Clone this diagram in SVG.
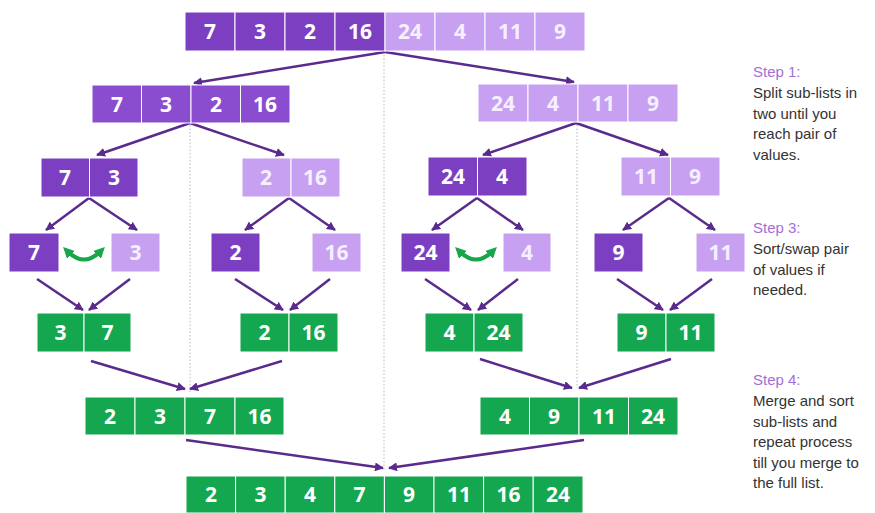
<svg xmlns="http://www.w3.org/2000/svg" width="875" height="513" viewBox="0 0 875 513">
<style>
.d{fill:#7d3fc2;stroke:#fff;stroke-width:1}
.m{fill:#8a4dd0;stroke:#fff;stroke-width:1}
.l{fill:#c7a0f2;stroke:#fff;stroke-width:1}
.g{fill:#15a650;stroke:#fff;stroke-width:1}
.t{font-family:"Open Sans","Liberation Sans",sans-serif;font-weight:700;font-size:21px;fill:#fff;text-anchor:middle}
.tl{fill:#f6efff}
.a{stroke:#5a2a8c;stroke-width:2.5;fill:none;marker-end:url(#ah)}
.dot{stroke:#b8b8b8;stroke-width:1;stroke-dasharray:1.5 2;fill:none}
.sh{font-family:"Liberation Sans","Open Sans",sans-serif;font-size:15px;fill:#a36fd6}
.sb{font-family:"Liberation Sans","Open Sans",sans-serif;font-size:15px;fill:#333}
.sw{stroke:#17a64a;stroke-width:4;fill:none;marker-start:url(#gh);marker-end:url(#gh)}
</style>
<defs>
<marker id="ah" viewBox="0 0 10 10" refX="9" refY="5" markerWidth="9" markerHeight="9" markerUnits="userSpaceOnUse" orient="auto">
<path d="M0,0 L10,5 L0,10 z" fill="#5a2a8c"/>
</marker>
<marker id="gh" viewBox="0 0 10 10" refX="5" refY="5" markerWidth="11" markerHeight="11" markerUnits="userSpaceOnUse" orient="auto-start-reverse">
<path d="M0,0 L10,5 L0,10 z" fill="#17a64a"/>
</marker>
</defs>
<rect width="875" height="513" fill="#fff"/>
<g id="guides">
<line class="dot" x1="384" y1="55" x2="384" y2="470"/>
<line class="dot" x1="190" y1="125" x2="190" y2="392"/>
<line class="dot" x1="577" y1="125" x2="577" y2="388"/>
</g>
<g id="connectors">
<line class="a" x1="385" y1="52" x2="194" y2="83"/>
<line class="a" x1="385" y1="52" x2="574" y2="82"/>
<line class="a" x1="190" y1="123" x2="97" y2="155"/>
<line class="a" x1="190" y1="123" x2="284" y2="155"/>
<line class="a" x1="576" y1="123" x2="483" y2="155"/>
<line class="a" x1="576" y1="123" x2="668" y2="155"/>
<line class="a" x1="89" y1="198" x2="46" y2="230"/>
<line class="a" x1="89" y1="198" x2="137" y2="230"/>
<line class="a" x1="289" y1="198" x2="245" y2="230"/>
<line class="a" x1="289" y1="198" x2="335" y2="230"/>
<line class="a" x1="477" y1="198" x2="432" y2="230"/>
<line class="a" x1="477" y1="198" x2="523" y2="230"/>
<line class="a" x1="669" y1="198" x2="623" y2="230"/>
<line class="a" x1="669" y1="198" x2="715" y2="230"/>
<line class="a" x1="37" y1="279" x2="83" y2="310"/>
<line class="a" x1="130" y1="279" x2="89" y2="310"/>
<line class="a" x1="235" y1="279" x2="283" y2="310"/>
<line class="a" x1="330" y1="279" x2="290" y2="310"/>
<line class="a" x1="425" y1="279" x2="471" y2="310"/>
<line class="a" x1="518" y1="279" x2="478" y2="310"/>
<line class="a" x1="617" y1="279" x2="663" y2="310"/>
<line class="a" x1="712" y1="279" x2="670" y2="310"/>
<line class="a" x1="91" y1="361" x2="185" y2="389"/>
<line class="a" x1="282" y1="361" x2="190" y2="389"/>
<line class="a" x1="480" y1="359" x2="572" y2="388"/>
<line class="a" x1="671" y1="359" x2="579" y2="388"/>
<line class="a" x1="186" y1="440" x2="383" y2="468"/>
<line class="a" x1="584" y1="440" x2="389" y2="468"/>
<path class="sw" d="M67,251 Q84,268 101,251"/>
<path class="sw" d="M459,251 Q476,268 493,251"/>
</g>
<g id="top">
<rect class="d" x="185" y="12" width="50" height="39"/><rect class="d" x="235" y="12" width="50" height="39"/><rect class="d" x="285" y="12" width="50" height="39"/><rect class="d" x="335" y="12" width="50" height="39"/>
<rect class="l" x="385" y="12" width="50" height="39"/><rect class="l" x="435" y="12" width="50" height="39"/><rect class="l" x="485" y="12" width="50" height="39"/><rect class="l" x="535" y="12" width="50" height="39"/>
<text class="t" x="210" y="39">7</text><text class="t" x="260" y="39">3</text><text class="t" x="310" y="39">2</text><text class="t" x="360" y="39">16</text>
<text class="t tl" x="410" y="39">24</text><text class="t tl" x="460" y="39">4</text><text class="t tl" x="510" y="39">11</text><text class="t tl" x="560" y="39">9</text>
</g>
<g id="left1">
<rect class="m" x="92" y="85" width="49.5" height="38"/><rect class="m" x="141.5" y="85" width="49.5" height="38"/><rect class="m" x="191" y="85" width="49.5" height="38"/><rect class="m" x="240.5" y="85" width="49.5" height="38"/>
<text class="t" x="117" y="111.5">7</text><text class="t" x="166" y="111.5">3</text><text class="t" x="216" y="111.5">2</text><text class="t" x="265" y="111.5">16</text>
</g>
<g id="right1">
<rect class="l" x="478" y="84" width="50" height="38"/><rect class="l" x="528" y="84" width="50" height="38"/><rect class="l" x="578" y="84" width="50" height="38"/><rect class="l" x="628" y="84" width="50" height="38"/>
<text class="t tl" x="503" y="110.5">24</text><text class="t tl" x="553" y="110.5">4</text><text class="t tl" x="603" y="110.5">11</text><text class="t tl" x="653" y="110.5">9</text>
</g>
<g id="pair73">
<rect class="d" x="41" y="158" width="48.5" height="39"/><rect class="d" x="89.5" y="158" width="48.5" height="39"/>
<text class="t" x="65" y="185">7</text><text class="t" x="114" y="185">3</text>
</g>
<g id="pair216">
<rect class="l" x="242" y="158" width="49" height="39"/><rect class="l" x="291" y="158" width="49" height="39"/>
<text class="t tl" x="266" y="185">2</text><text class="t tl" x="315" y="185">16</text>
</g>
<g id="pair244">
<rect class="d" x="428" y="157" width="49.5" height="39"/><rect class="d" x="477.5" y="157" width="49.5" height="39"/>
<text class="t" x="453" y="184">24</text><text class="t" x="502" y="184">4</text>
</g>
<g id="pair119">
<rect class="l" x="621" y="157" width="49.5" height="39"/><rect class="l" x="670.5" y="157" width="49.5" height="39"/>
<text class="t tl" x="646" y="184">11</text><text class="t tl" x="695" y="184">9</text>
</g>
<g id="s7"><rect class="d" x="9" y="233" width="50" height="39"/><text class="t" x="34" y="260">7</text></g>
<g id="s3"><rect class="l" x="111" y="233" width="49" height="39"/><text class="t tl" x="135.5" y="260">3</text></g>
<g id="s2"><rect class="d" x="211" y="233" width="49" height="39"/><text class="t" x="235.5" y="260">2</text></g>
<g id="s16"><rect class="l" x="312" y="233" width="49" height="39"/><text class="t tl" x="336.5" y="260">16</text></g>
<g id="s24"><rect class="d" x="401" y="233" width="49" height="39"/><text class="t" x="425.5" y="260">24</text></g>
<g id="s4"><rect class="l" x="503" y="233" width="48" height="39"/><text class="t tl" x="527" y="260">4</text></g>
<g id="s9"><rect class="d" x="594" y="233" width="49" height="39"/><text class="t" x="618.5" y="260">9</text></g>
<g id="s11"><rect class="l" x="696" y="233" width="49" height="39"/><text class="t tl" x="720.5" y="260">11</text></g>
<g id="m37">
<rect class="g" x="37" y="313" width="47" height="39"/><rect class="g" x="84" y="313" width="47" height="39"/>
<text class="t" x="60.5" y="340">3</text><text class="t" x="107.5" y="340">7</text>
</g>
<g id="m216">
<rect class="g" x="240" y="313" width="49" height="39"/><rect class="g" x="289" y="313" width="49" height="39"/>
<text class="t" x="264.5" y="340">2</text><text class="t" x="313.5" y="340">16</text>
</g>
<g id="m424">
<rect class="g" x="425" y="313" width="49" height="39"/><rect class="g" x="474" y="313" width="49" height="39"/>
<text class="t" x="449.5" y="340">4</text><text class="t" x="498.5" y="340">24</text>
</g>
<g id="m911">
<rect class="g" x="617" y="313" width="49" height="39"/><rect class="g" x="666" y="313" width="49" height="39"/>
<text class="t" x="641.5" y="340">9</text><text class="t" x="690.5" y="340">11</text>
</g>
<g id="mleft">
<rect class="g" x="85" y="397" width="50" height="38"/><rect class="g" x="135" y="397" width="50" height="38"/><rect class="g" x="185" y="397" width="50" height="38"/><rect class="g" x="235" y="397" width="49" height="38"/>
<text class="t" x="110" y="423.5">2</text><text class="t" x="160" y="423.5">3</text><text class="t" x="210" y="423.5">7</text><text class="t" x="259.5" y="423.5">16</text>
</g>
<g id="mright">
<rect class="g" x="480" y="397" width="49.5" height="38"/><rect class="g" x="529.5" y="397" width="49.5" height="38"/><rect class="g" x="579" y="397" width="49.5" height="38"/><rect class="g" x="628.5" y="397" width="49.5" height="38"/>
<text class="t" x="505" y="423.5">4</text><text class="t" x="554" y="423.5">9</text><text class="t" x="604" y="423.5">11</text><text class="t" x="653" y="423.5">24</text>
</g>
<g id="final">
<rect class="g" x="186" y="476" width="49.6" height="37"/><rect class="g" x="235.6" y="476" width="49.6" height="37"/><rect class="g" x="285.2" y="476" width="49.6" height="37"/><rect class="g" x="334.8" y="476" width="49.6" height="37"/>
<rect class="g" x="384.4" y="476" width="49.6" height="37"/><rect class="g" x="434" y="476" width="49.6" height="37"/><rect class="g" x="483.6" y="476" width="49.6" height="37"/><rect class="g" x="533.2" y="476" width="49.8" height="37"/>
<text class="t" x="211" y="502">2</text><text class="t" x="260.5" y="502">3</text><text class="t" x="310" y="502">4</text><text class="t" x="359.5" y="502">7</text>
<text class="t" x="409" y="502">9</text><text class="t" x="459" y="502">11</text><text class="t" x="508.5" y="502">16</text><text class="t" x="558" y="502">24</text>
</g>
<g id="step1">
<text class="sh" x="753" y="77">Step 1:</text>
<text class="sb" x="753" y="98">Split sub-lists in</text>
<text class="sb" x="753" y="118.5">two until you</text>
<text class="sb" x="753" y="139">reach pair of</text>
<text class="sb" x="753" y="159.5">values.</text>
</g>
<g id="step3">
<text class="sh" x="753" y="233">Step 3:</text>
<text class="sb" x="753" y="254">Sort/swap pair</text>
<text class="sb" x="753" y="274.5">of values if</text>
<text class="sb" x="753" y="295">needed.</text>
</g>
<g id="step4">
<text class="sh" x="753" y="385">Step 4:</text>
<text class="sb" x="753" y="406">Merge and sort</text>
<text class="sb" x="753" y="426.5">sub-lists and</text>
<text class="sb" x="753" y="447">repeat process</text>
<text class="sb" x="753" y="467.5">till you merge to</text>
<text class="sb" x="753" y="488">the full list.</text>
</g>
</svg>
